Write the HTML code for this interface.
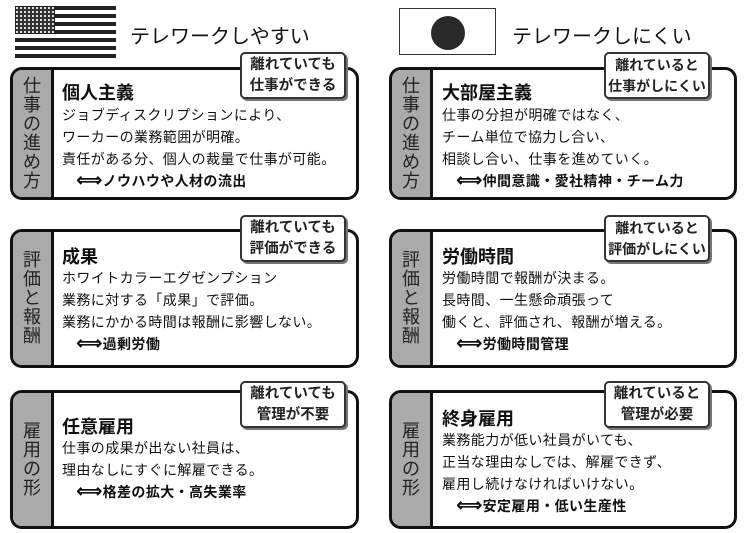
<!DOCTYPE html>
<html><head><meta charset="utf-8"><style>
body{margin:0;width:748px;height:533px;background:#fff;position:relative;overflow:hidden;font-family:"Liberation Sans","Noto Sans CJK JP",sans-serif;color:#111}
.a{position:absolute}
.p{position:absolute;border:3px solid #111;border-radius:12px;background:#fff;overflow:hidden;box-sizing:border-box}
.side{position:absolute;left:0;top:0;bottom:0;width:38px;background:#aaa;border-right:3px solid #111;display:flex;align-items:center;justify-content:center}
.side span{font-size:18px;line-height:19px;width:20px;text-align:center;color:#222}
.badge{position:absolute;width:106px;height:47px;border:2px solid #333;border-radius:5px;background:#fff;box-shadow:2px 2px 0 #777;font-size:14.5px;text-align:center;line-height:21px;font-weight:bold;box-sizing:border-box;padding-top:1px;color:#222;white-space:nowrap}
.h{position:absolute;font-size:18px;font-weight:bold}
.t{position:absolute;font-size:14px;line-height:22px;letter-spacing:0.4px;white-space:nowrap}
.t b{font-weight:bold}
.ar{font-size:18px;font-weight:bold;line-height:14px}
.ttl{position:absolute;font-size:20px;top:20px}
</style></head><body>
<svg class="a" style="left:15px;top:6px" width="101" height="54">
<defs><pattern id="st" width="4" height="4" patternUnits="userSpaceOnUse"><rect width="4" height="4" fill="#333"/><rect x="1" y="1" width="2" height="2" fill="#ddd"/></pattern></defs>
<g fill="#222">
<rect x="0" y="0" width="101" height="4"/><rect x="0" y="8" width="101" height="4"/><rect x="0" y="16" width="101" height="4"/><rect x="0" y="24" width="101" height="4"/><rect x="0" y="32" width="101" height="4"/><rect x="0" y="40" width="101" height="4"/><rect x="0" y="48" width="101" height="4"/>
<rect x="0" y="0" width="40" height="28"/></g>
<rect x="1" y="1" width="38" height="26" fill="url(#st)"/>
</svg>
<div class="ttl" style="left:130px">テレワークしやすい</div>
<div class="a" style="left:399px;top:8px;width:97px;height:47px;border:1px solid #333;box-sizing:border-box"></div>
<div class="a" style="left:431px;top:16px;width:34px;height:34px;border-radius:50%;background:#2a2a2a"></div>
<div class="ttl" style="left:512px">テレワークしにくい</div>

<div class="p" style="left:10px;top:67px;width:349px;height:133px"><div class="side"><span>仕事の進め方</span></div></div>
<div class="badge" style="left:240px;top:52px">離れていても<br>仕事ができる</div>
<div class="h" style="left:62px;top:79px">個人主義</div>
<div class="t" style="left:62px;top:104px">ジョブディスクリプションにより、<br>ワーカーの業務範囲が明確。<br>責任がある分、個人の裁量で仕事が可能。<br><b>　<span class="ar">⟺</span>ノウハウや人材の流出</b></div>

<div class="p" style="left:10px;top:229px;width:349px;height:139px"><div class="side"><span>評価と報酬</span></div></div>
<div class="badge" style="left:240px;top:215px">離れていても<br>評価ができる</div>
<div class="h" style="left:62px;top:243px">成果</div>
<div class="t" style="left:62px;top:267px">ホワイトカラーエグゼンプション<br>業務に対する「成果」で評価。<br>業務にかかる時間は報酬に影響しない。<br><b>　<span class="ar">⟺</span>過剰労働</b></div>

<div class="p" style="left:10px;top:390px;width:349px;height:139px"><div class="side"><span>雇用の形</span></div></div>
<div class="badge" style="left:240px;top:381px">離れていても<br>管理が不要</div>
<div class="h" style="left:62px;top:413px">任意雇用</div>
<div class="t" style="left:62px;top:437px">仕事の成果が出ない社員は、<br>理由なしにすぐに解雇できる。<br><b>　<span class="ar">⟺</span>格差の拡大・高失業率</b></div>

<div class="p" style="left:389px;top:67px;width:348px;height:133px"><div class="side"><span>仕事の進め方</span></div></div>
<div class="badge" style="left:604px;top:52px;font-size:14px">離れていると<br>仕事がしにくい</div>
<div class="h" style="left:442px;top:79px">大部屋主義</div>
<div class="t" style="left:442px;top:104px">仕事の分担が明確ではなく、<br>チーム単位で協力し合い、<br>相談し合い、仕事を進めていく。<br><b>　<span class="ar">⟺</span>仲間意識・愛社精神・チーム力</b></div>

<div class="p" style="left:389px;top:229px;width:348px;height:139px"><div class="side"><span>評価と報酬</span></div></div>
<div class="badge" style="left:604px;top:215px;font-size:14px">離れていると<br>評価がしにくい</div>
<div class="h" style="left:442px;top:243px">労働時間</div>
<div class="t" style="left:442px;top:267px">労働時間で報酬が決まる。<br>長時間、一生懸命頑張って<br>働くと、評価され、報酬が増える。<br><b>　<span class="ar">⟺</span>労働時間管理</b></div>

<div class="p" style="left:389px;top:390px;width:348px;height:139px"><div class="side"><span>雇用の形</span></div></div>
<div class="badge" style="left:604px;top:381px">離れていると<br>管理が必要</div>
<div class="h" style="left:442px;top:405px">終身雇用</div>
<div class="t" style="left:442px;top:429px">業務能力が低い社員がいても、<br>正当な理由なしでは、解雇できず、<br>雇用し続けなければいけない。<br><b>　<span class="ar">⟺</span>安定雇用・低い生産性</b></div>
</body></html>
